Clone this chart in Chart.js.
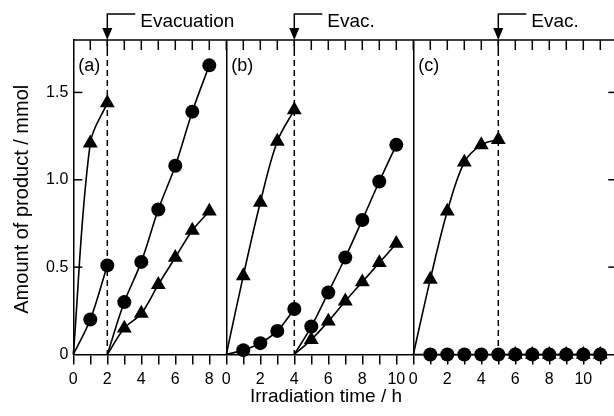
<!DOCTYPE html>
<html>
<head>
<meta charset="utf-8">
<script src="https://cdn.jsdelivr.net/npm/chart.js@4.4.1/dist/chart.umd.min.js"></script>
<style>
html, body { margin: 0; padding: 0; background: #fff; overflow: hidden; width: 614px; height: 416px; }
canvas { display: block; }
</style>
</head>
<body>
<canvas id="chart" width="630" height="416" style="width:630px;height:416px"></canvas>
<script>
// ---------------- data ----------------
const panelNames = ['(a)', '(b)', '(c)'];
const panelSpans = [9, 11, 12];          // time range of each panel (h)
const evacTimes = [2, 4, 5];             // evacuation time in each panel (h)
const evacLabels = ['Evacuation', 'Evac.', 'Evac.'];
const yTickValues = [0, 0.5, 1.0, 1.5];
const xTitle = 'Irradiation time / h';
const yTitle = 'Amount of product / mmol';

// Panel (a)
const aTimeBefore = [0, 1, 2];
const aCircleBefore = [0, 0.20, 0.51];
const aTriangleBefore = [0, 1.21, 1.44];
const aTimeAfter = [2, 3, 4, 5, 6, 7, 8];
const aCircleAfter = [0, 0.30, 0.53, 0.83, 1.08, 1.39, 1.655];
const aTriangleAfter = [0, 0.15, 0.235, 0.40, 0.555, 0.71, 0.82];

// Panel (b)
const bTimeBefore = [0, 1, 2, 3, 4];
const bCircleBefore = [0, 0.025, 0.065, 0.135, 0.26];
const bTriangleBefore = [0, 0.45, 0.87, 1.22, 1.40];
const bTimeAfter = [4, 5, 6, 7, 8, 9, 10];
const bCircleAfter = [0, 0.16, 0.355, 0.555, 0.77, 0.99, 1.20];
const bTriangleAfter = [0, 0.085, 0.19, 0.305, 0.415, 0.525, 0.635];

// Panel (c)
const cTimeBefore = [0, 1, 2, 3, 4, 5];
const cTriangleBefore = [0, 0.43, 0.82, 1.10, 1.20, 1.23];
const cTimeAll = [0, 1, 2, 3, 4, 5, 6, 7, 8, 9, 10, 11];
const cCircleAll = [0, 0, 0, 0, 0, 0, 0, 0, 0, 0, 0, 0];
const cTimeAfter = [5, 6, 7, 8, 9, 10, 11];
const cTriangleAfter = [0, 0, 0, 0, 0, 0, 0];

// ---------------- helpers ----------------
const FONT = '"Liberation Sans", Arial, Helvetica, sans-serif';
Chart.defaults.font.family = FONT;
Chart.defaults.color = '#000';

const panelStarts = [];
panelSpans.reduce((acc, s) => { panelStarts.push(acc); return acc + s; }, 0);
const xMax = panelStarts[panelStarts.length - 1] + panelSpans[panelSpans.length - 1];

function localTime(v) {
  let i = 0;
  for (let k = 0; k < panelStarts.length; k++) if (v >= panelStarts[k] - 1e-9) i = k;
  return Math.round(v - panelStarts[i]);
}
function isDivider(v) {
  return panelStarts.some((s, k) => k > 0 && Math.abs(s - v) < 1e-9);
}

function series(panel, times, values, style) {
  const off = panelStarts[panel];
  const r = style === 'triangle' ? 8.6 : 7;
  return {
    data: times.map((t, i) => ({ x: off + t, y: values[i] })),
    showLine: true,
    borderColor: '#000',
    borderWidth: 1.6,
    backgroundColor: '#000',
    pointStyle: style,
    pointRadius: ctx => (ctx.dataIndex === 0 ? 0 : r),
    pointHoverRadius: ctx => (ctx.dataIndex === 0 ? 0 : r),
    pointBorderWidth: 0,
    pointBackgroundColor: '#000',
    tension: 0.35,
    fill: false,
    clip: false
  };
}

const datasets = [
  series(0, aTimeBefore, aCircleBefore, 'circle'),
  series(0, aTimeBefore, aTriangleBefore, 'triangle'),
  series(0, aTimeAfter, aCircleAfter, 'circle'),
  series(0, aTimeAfter, aTriangleAfter, 'triangle'),
  series(1, bTimeBefore, bCircleBefore, 'circle'),
  series(1, bTimeBefore, bTriangleBefore, 'triangle'),
  series(1, bTimeAfter, bCircleAfter, 'circle'),
  series(1, bTimeAfter, bTriangleAfter, 'triangle'),
  series(2, cTimeBefore, cTriangleBefore, 'triangle'),
  series(2, cTimeAll, cCircleAll, 'circle'),
  series(2, cTimeAfter, cTriangleAfter, 'triangle')
];

// ---------------- decorations ----------------
const decor = {
  id: 'decor',
  beforeDatasetsDraw(chart) {
    const { ctx, chartArea: { top, bottom }, scales: { x } } = chart;
    ctx.save();
    ctx.strokeStyle = '#000';
    ctx.lineWidth = 1.5;
    ctx.setLineDash([6, 4]);
    evacTimes.forEach((t, i) => {
      const px = x.getPixelForValue(panelStarts[i] + t);
      ctx.beginPath();
      ctx.moveTo(px, top);
      ctx.lineTo(px, bottom);
      ctx.stroke();
    });
    ctx.restore();
  },
  afterDraw(chart) {
    const { ctx, chartArea: { left, right, top, bottom }, scales: { x, y } } = chart;
    ctx.save();
    ctx.strokeStyle = '#000';
    ctx.fillStyle = '#000';
    ctx.lineWidth = 1.5;
    // frame: top and right
    ctx.beginPath();
    ctx.moveTo(left, top); ctx.lineTo(right, top); ctx.lineTo(right, bottom);
    ctx.stroke();
    // top inward ticks
    for (let v = 1; v < xMax; v++) {
      const px = x.getPixelForValue(v);
      ctx.beginPath(); ctx.moveTo(px, top); ctx.lineTo(px, top + 10); ctx.stroke();
    }
    // left and right inward ticks
    yTickValues.forEach(v => {
      if (v === 0) return;
      const py = y.getPixelForValue(v);
      ctx.beginPath(); ctx.moveTo(left, py); ctx.lineTo(left + 9, py); ctx.stroke();
      ctx.beginPath(); ctx.moveTo(right, py); ctx.lineTo(right - 9, py); ctx.stroke();
    });
    // evacuation arrows and labels
    ctx.font = '19px ' + FONT;
    ctx.textBaseline = 'alphabetic';
    ctx.textAlign = 'left';
    evacTimes.forEach((t, i) => {
      const px = x.getPixelForValue(panelStarts[i] + t);
      ctx.beginPath();
      ctx.moveTo(px, top);
      ctx.lineTo(px - 5, top - 12);
      ctx.lineTo(px + 5, top - 12);
      ctx.closePath();
      ctx.fill();
      ctx.beginPath();
      ctx.moveTo(px, top - 12); ctx.lineTo(px, 14); ctx.lineTo(px + 28, 14);
      ctx.stroke();
      ctx.fillText(evacLabels[i], px + 33, 27);
    });
    // panel labels
    ctx.font = '18px ' + FONT;
    ctx.textBaseline = 'middle';
    panelNames.forEach((n, i) => {
      const px = x.getPixelForValue(panelStarts[i]);
      ctx.fillText(n, px + 5, 66);
    });
    // axis titles
    ctx.font = '19px ' + FONT;
    ctx.textAlign = 'center';
    ctx.textBaseline = 'middle';
    ctx.fillText(xTitle, 326, 397);
    ctx.save();
    ctx.translate(22, (top + bottom) / 2 + 2);
    ctx.rotate(-Math.PI / 2);
    ctx.font = '20px ' + FONT;
    ctx.fillText(yTitle, 0, 0);
    ctx.restore();
    ctx.restore();
  }
};

new Chart(document.getElementById('chart'), {
  type: 'scatter',
  data: { datasets },
  plugins: [decor],
  options: {
    responsive: false,
    animation: false,
    events: [],
    layout: { padding: { left: 0, right: 12.7, top: 40, bottom: 0 } },
    plugins: { legend: { display: false }, tooltip: { enabled: false } },
    scales: {
      x: {
        type: 'linear',
        position: 'bottom',
        min: 0,
        max: xMax,
        afterFit: s => { s.height = 61.5; },
        ticks: {
          stepSize: 1,
          autoSkip: false,
          maxRotation: 0,
          padding: 5,
          color: '#000',
          font: { size: 16 },
          callback: v => {
            if (v >= xMax) return '';
            const l = localTime(v);
            return l % 2 === 0 ? String(l) : '';
          }
        },
        grid: {
          display: true,
          drawOnChartArea: true,
          drawTicks: true,
          color: ctx => (ctx.tick && isDivider(ctx.tick.value) ? '#000' : 'rgba(0,0,0,0)'),
          lineWidth: 1.5,
          tickColor: '#000',
          tickWidth: 1.5,
          tickLength: 10
        },
        border: { display: true, color: '#000', width: 1.5 },
        title: { display: false }
      },
      y: {
        type: 'linear',
        position: 'left',
        min: 0,
        max: 1.8,
        afterFit: s => { s.width = 73.3; },
        ticks: {
          stepSize: 0.5,
          includeBounds: false,
          padding: 5,
          color: '#000',
          font: { size: 16 },
          callback: v => (v === 0 ? '0' : v.toFixed(1))
        },
        grid: { display: false, drawTicks: false, drawOnChartArea: false },
        border: { display: true, color: '#000', width: 1.5 },
        title: { display: false }
      }
    }
  }
});
</script>
</body>
</html>
